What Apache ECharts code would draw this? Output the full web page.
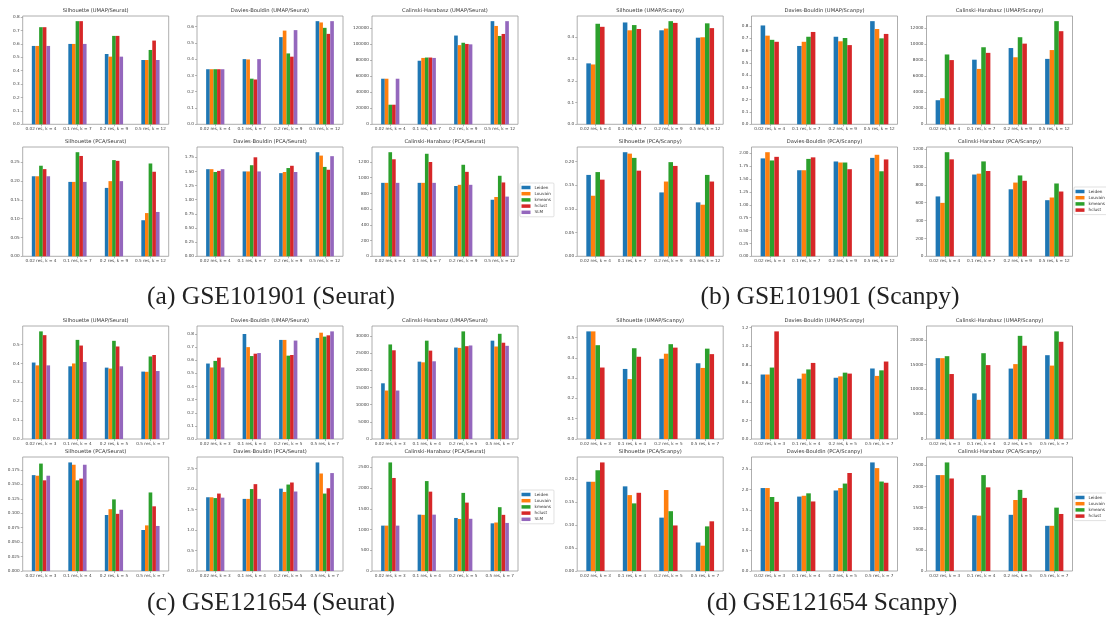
<!DOCTYPE html>
<html>
<head>
<meta charset="utf-8">
<script src="https://cdn.jsdelivr.net/npm/echarts@6/dist/echarts.min.js"></script>
<style>
  html, body { margin: 0; padding: 0; background: #fff; }
  #chart { width: 1106px; height: 618px; }
</style>
</head>
<body>
<div id="chart"></div>
<script>
// Clustering quality metrics for two datasets, Seurat and Scanpy pipelines.
const COLORS = ['#1f77b4', '#ff7f0e', '#2ca02c', '#d62728', '#9467bd'];
const METHODS_SEURAT = ['Leiden', 'Louvain', 'kmeans', 'hclust', 'SLM'];
const METHODS_SCANPY = ['Leiden', 'Louvain', 'kmeans', 'hclust'];
const CATS_101901 = ['0.02 res, k = 4', '0.1 res, k = 7', '0.2 res, k = 9', '0.5 res, k = 12'];
const CATS_121654 = ['0.02 res, k = 3', '0.1 res, k = 4', '0.2 res, k = 5', '0.5 res, k = 7'];

// each row = one parameter setting, columns follow the method order
// (a) GSE101901, Seurat
const aSilUmap = [[0.585, 0.585, 0.725, 0.725, 0.585], [0.600, 0.600, 0.770, 0.770, 0.600], [0.525, 0.505, 0.660, 0.660, 0.505], [0.480, 0.480, 0.555, 0.625, 0.480]];
const aDbUmap  = [[0.338, 0.338, 0.338, 0.338, 0.338], [0.400, 0.398, 0.280, 0.275, 0.400], [0.535, 0.575, 0.435, 0.415, 0.578], [0.633, 0.625, 0.592, 0.555, 0.633]];
const aChUmap  = [[57000, 57000, 24500, 24500, 57000], [79500, 83000, 83500, 83500, 83000], [111000, 99000, 102000, 100500, 100000], [129000, 123000, 110500, 113000, 129000]];
const aSilPca  = [[0.213, 0.213, 0.241, 0.232, 0.213], [0.198, 0.198, 0.277, 0.267, 0.198], [0.182, 0.200, 0.256, 0.254, 0.200], [0.096, 0.115, 0.247, 0.225, 0.118]];
const aDbPca   = [[1.54, 1.54, 1.49, 1.51, 1.54], [1.50, 1.50, 1.61, 1.75, 1.50], [1.47, 1.49, 1.56, 1.60, 1.49], [1.84, 1.78, 1.58, 1.53, 1.77]];
const aChPca   = [[935, 935, 1325, 1235, 935], [935, 935, 1305, 1200, 935], [895, 910, 1165, 1075, 910], [720, 755, 1025, 940, 760]];

// (b) GSE101901, Scanpy
const bSilUmap = [[0.280, 0.275, 0.462, 0.448], [0.468, 0.432, 0.456, 0.438], [0.432, 0.440, 0.474, 0.466], [0.398, 0.400, 0.464, 0.442]];
const bDbUmap  = [[0.805, 0.722, 0.688, 0.672], [0.638, 0.672, 0.713, 0.752], [0.713, 0.676, 0.703, 0.645], [0.840, 0.776, 0.700, 0.736]];
const bChUmap  = [[3000, 3250, 8700, 8000], [8050, 6900, 9600, 8900], [9500, 8350, 10850, 10050], [8150, 9250, 12850, 11600]];
const bSilPca  = [[0.172, 0.128, 0.178, 0.162], [0.220, 0.217, 0.208, 0.181], [0.135, 0.158, 0.199, 0.191], [0.114, 0.109, 0.172, 0.158]];
const bDbPca   = [[1.90, 2.02, 1.86, 1.93], [1.67, 1.67, 1.89, 1.92], [1.84, 1.82, 1.82, 1.69], [1.91, 1.97, 1.65, 1.88]];
const bChPca   = [[670, 598, 1165, 1085], [915, 925, 1062, 955], [750, 825, 905, 845], [628, 658, 815, 725]];

// (c) GSE121654, Seurat
const cSilUmap = [[0.405, 0.390, 0.570, 0.550, 0.390], [0.385, 0.400, 0.525, 0.495, 0.408], [0.378, 0.373, 0.520, 0.490, 0.385], [0.357, 0.356, 0.437, 0.445, 0.360]];
const cDbUmap  = [[0.575, 0.545, 0.595, 0.620, 0.545], [0.800, 0.700, 0.632, 0.650, 0.655], [0.755, 0.755, 0.635, 0.640, 0.750], [0.770, 0.810, 0.780, 0.790, 0.820]];
const cChUmap  = [[16200, 14100, 27500, 25800, 14100], [22500, 22300, 28600, 25700, 22600], [26600, 26500, 31300, 27000, 27200], [28600, 26900, 30600, 28000, 27100]];
const cSilPca  = [[0.166, 0.165, 0.186, 0.157, 0.165], [0.188, 0.184, 0.157, 0.160, 0.184], [0.097, 0.107, 0.124, 0.099, 0.106], [0.071, 0.079, 0.136, 0.112, 0.078]];
const cDbPca   = [[1.80, 1.80, 1.78, 1.89, 1.79], [1.76, 1.76, 2.00, 2.12, 1.76], [2.01, 1.93, 2.11, 2.16, 1.94], [2.65, 2.38, 1.89, 2.02, 2.39]];
const cChPca   = [[1095, 1095, 2620, 2245, 1095], [1360, 1355, 2170, 1915, 1360], [1280, 1255, 1885, 1650, 1260], [1150, 1170, 1540, 1355, 1160]];

// (d) GSE121654, Scanpy
const dSilUmap = [[0.530, 0.530, 0.462, 0.352], [0.345, 0.295, 0.447, 0.405], [0.395, 0.420, 0.467, 0.450], [0.373, 0.350, 0.445, 0.418]];
const dDbUmap  = [[0.695, 0.695, 0.770, 1.160], [0.650, 0.705, 0.750, 0.820], [0.660, 0.675, 0.715, 0.705], [0.760, 0.680, 0.740, 0.835]];
const dChUmap  = [[16300, 16300, 16700, 13100], [9200, 7900, 17300, 14900], [14200, 15100, 20800, 18800], [16900, 14800, 21700, 19600]];
const dSilPca  = [[0.194, 0.194, 0.219, 0.236], [0.184, 0.165, 0.147, 0.170], [0.116, 0.176, 0.130, 0.099], [0.062, 0.055, 0.097, 0.108]];
const dDbPca   = [[2.04, 2.04, 1.82, 1.70], [1.83, 1.85, 1.91, 1.71], [1.98, 2.04, 2.15, 2.41], [2.67, 2.53, 2.20, 2.17]];
const dChPca   = [[2270, 2270, 2570, 2190], [1320, 1310, 2270, 1980], [1330, 1680, 1920, 1730], [1070, 1070, 1500, 1350]];

// y tick step and label decimals for each panel, in subplot order
const TICK_STEPS = {
  a: [0.1, 0.1, 20000, 0.05, 0.25, 200],
  b: [0.1, 0.1, 2000, 0.05, 0.25, 200],
  c: [0.1, 0.1, 5000, 0.025, 0.5, 500],
  d: [0.1, 0.2, 5000, 0.05, 0.5, 500]
};
const TICK_DECIMALS = {
  a: [1, 1, 0, 2, 2, 0],
  b: [1, 1, 0, 2, 2, 0],
  c: [1, 1, 0, 3, 1, 0],
  d: [1, 1, 0, 2, 1, 0]
};
const CAPTIONS = ['(a) GSE101901 (Seurat)', '(b) GSE101901 (Scanpy)', '(c) GSE121654 (Seurat)', '(d) GSE121654 Scanpy)'];

const PANELS = [
  { key: 'a', tool: 'Seurat', cats: CATS_101901, methods: METHODS_SEURAT, data: [aSilUmap, aDbUmap, aChUmap, aSilPca, aDbPca, aChPca] },
  { key: 'b', tool: 'Scanpy', cats: CATS_101901, methods: METHODS_SCANPY, data: [bSilUmap, bDbUmap, bChUmap, bSilPca, bDbPca, bChPca] },
  { key: 'c', tool: 'Seurat', cats: CATS_121654, methods: METHODS_SEURAT, data: [cSilUmap, cDbUmap, cChUmap, cSilPca, cDbPca, cChPca] },
  { key: 'd', tool: 'Scanpy', cats: CATS_121654, methods: METHODS_SCANPY, data: [dSilUmap, dDbUmap, dChUmap, dSilPca, dDbPca, dChPca] }
];
const METRICS = ['Silhouette', 'Davies-Bouldin', 'Calinski-Harabasz'];
const EMBEDS = ['UMAP', 'PCA'];

// ---- layout (pixels) ----
const PANEL_X = { a: 0, b: 554.5, c: 0, d: 554.5 };
const COL_LEFT = [22.7, 197, 372];
const COL_W = 146;
const ROWS = {
  a: [[16, 108.3], [147, 109.3]], b: [[16, 108.3], [147, 109.3]],
  c: [[326, 113], [457, 114]], d: [[326, 113], [457, 114]]
};
const LEGEND_POS = { a: [520, 183], b: [1074, 187], c: [520, 490], d: [1074, 493] };
const CAPTION_POS = [[271, 297], [830, 297], [271, 603], [832, 603]];

const grids = [], xAxes = [], yAxes = [], series = [], graphics = [], legends = [];
const TICK_FONT = { fontSize: 4.2, color: '#444', fontFamily: 'DejaVu Sans' };

PANELS.forEach((p, pi) => {
  p.data.forEach((rows, si) => {
    const r = Math.floor(si / 3), c = si % 3;
    const gi = grids.length;
    const left = PANEL_X[p.key] + COL_LEFT[c];
    const [top, height] = ROWS[p.key][r];
    grids.push({ left, top, width: COL_W, height, show: true, borderColor: '#999', borderWidth: 0.8, backgroundColor: '#fff' });

    const step = TICK_STEPS[p.key][si], dec = TICK_DECIMALS[p.key][si];
    const maxVal = Math.max(...rows.flat());
    const yMax = maxVal * 1.05;
    const ticks = [];
    for (let k = 0; k * step <= yMax + 1e-9; k++) ticks.push(+(k * step).toFixed(6));

    xAxes.push({
      type: 'category', gridIndex: gi, data: p.cats,
      axisLine: { show: false },
      axisTick: { show: true, alignWithLabel: true, length: 2, lineStyle: { color: '#888', width: 0.6 } },
      axisLabel: Object.assign({ interval: 0, margin: 3 }, TICK_FONT)
    });
    yAxes.push({
      type: 'value', gridIndex: gi, min: 0, max: yMax, interval: step,
      splitLine: { show: false }, axisLine: { show: false },
      axisTick: { show: true, length: 2, lineStyle: { color: '#888', width: 0.6 }, customValues: ticks },
      axisLabel: Object.assign({ margin: 3, customValues: ticks, formatter: v => v.toFixed(dec) }, TICK_FONT)
    });
    p.methods.forEach((m, mi) => {
      series.push({
        type: 'bar', name: m, xAxisIndex: gi, yAxisIndex: gi,
        data: rows.map(row => row[mi]),
        itemStyle: { color: COLORS[mi] },
        barGap: '0%', barCategoryGap: '50%',
        silent: true, animation: false
      });
    });
    graphics.push({
      type: 'text', x: left + COL_W / 2, y: top - 5,
      style: {
        text: METRICS[c] + ' (' + EMBEDS[r] + '/' + p.tool + ')',
        font: '5.2px "DejaVu Sans"', fill: '#333',
        textAlign: 'center', textVerticalAlign: 'middle', align: 'center', verticalAlign: 'middle'
      }
    });
  });

  legends.push({
    orient: 'vertical', left: LEGEND_POS[p.key][0], top: LEGEND_POS[p.key][1],
    data: p.methods, icon: 'rect', itemWidth: 9, itemHeight: 3.5, itemGap: 2.2,
    padding: [2.5, 3, 2.5, 1.5], borderColor: '#ccc', borderWidth: 0.6, borderRadius: 1,
    textStyle: { fontSize: 4.2, color: '#333', fontFamily: 'DejaVu Sans', padding: [0, 0, 0, -1] },
    selectedMode: false
  });

  graphics.push({
    type: 'text', x: CAPTION_POS[pi][0], y: CAPTION_POS[pi][1],
    style: {
      text: CAPTIONS[pi], font: '25.5px "Liberation Serif"', fill: '#222',
      textAlign: 'center', textVerticalAlign: 'middle', align: 'center', verticalAlign: 'middle'
    }
  });
});

const chart = echarts.init(document.getElementById('chart'), null, { renderer: 'canvas' });
chart.setOption({
  backgroundColor: '#fff',
  animation: false,
  color: COLORS,
  grid: grids, xAxis: xAxes, yAxis: yAxes,
  legend: legends,
  series: series,
  graphic: graphics
});
</script>
</body>
</html>
